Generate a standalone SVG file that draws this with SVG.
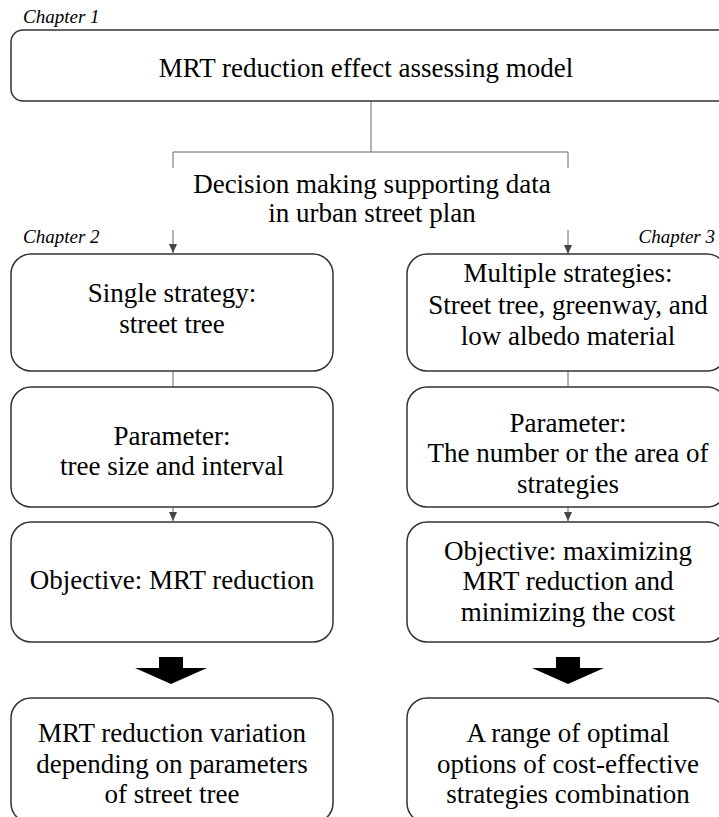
<svg xmlns="http://www.w3.org/2000/svg" width="719" height="817" viewBox="0 0 719 817">
<defs>
<style>
.box{fill:#fff;stroke:#333;stroke-width:1.5}
.t{font-family:'Liberation Serif',serif;font-size:27px;fill:#000;text-anchor:middle}
.ch{font-family:'Liberation Serif',serif;font-size:19px;font-style:italic;fill:#000}
.ln{stroke:#666;stroke-width:1;fill:none}
</style>
<marker id="ah" markerWidth="10" markerHeight="10" refX="9" refY="5" orient="auto" markerUnits="userSpaceOnUse">
<path d="M0,1 L9,5 L0,9 Z" fill="#444"/>
</marker>
</defs>
<rect width="719" height="817" fill="#fff"/>
<text class="ch" x="23" y="23">Chapter 1</text>
<text class="ch" x="23" y="243">Chapter 2</text>
<text class="ch" x="715" y="243" text-anchor="end">Chapter 3</text>
<g id="connectors">
<path class="ln" d="M371,101 V152"/>
<path class="ln" d="M173,152 H568"/>
<path class="ln" d="M173,152 V253" marker-end="url(#ah)"/>
<path class="ln" d="M568,152 V254" marker-end="url(#ah)"/>
<path class="ln" d="M173,371 V387"/>
<path class="ln" d="M568,371 V387"/>
<path class="ln" d="M173,507 V521" marker-end="url(#ah)"/>
<path class="ln" d="M568,507 V521" marker-end="url(#ah)"/>
<path d="M159,657 H183 V668 H207 L171,684 L135,668 H159 Z" fill="#000"/>
<path d="M556,657 H580 V668 H604 L568,684 L532,668 H556 Z" fill="#000"/>
</g>
<g id="n1">
<rect class="box" x="11" y="30" width="730" height="71" rx="12"/>
<text class="t" x="366" y="77">MRT reduction effect assessing model</text>
</g>
<g id="n2">
<rect x="120" y="168" width="505" height="62" fill="#fff"/>
<text class="t" x="372" y="193">Decision making supporting data</text>
<text class="t" x="372" y="222">in urban street plan</text>
</g>
<g id="l1">
<rect class="box" x="11" y="254" width="322" height="117" rx="20"/>
<text class="t" x="172" y="302">Single strategy:</text>
<text class="t" x="172" y="333">street tree</text>
</g>
<g id="l2">
<rect class="box" x="11" y="387" width="322" height="120" rx="20"/>
<text class="t" x="172" y="445">Parameter:</text>
<text class="t" x="172" y="475">tree size and interval</text>
</g>
<g id="l3">
<rect class="box" x="11" y="522" width="322" height="120" rx="20"/>
<text class="t" x="172" y="589">Objective: MRT reduction</text>
</g>
<g id="l4">
<rect class="box" x="11" y="698" width="322" height="125" rx="20"/>
<text class="t" x="172" y="742">MRT reduction variation</text>
<text class="t" x="172" y="773">depending on parameters</text>
<text class="t" x="172" y="803">of street tree</text>
</g>
<g id="r1">
<rect class="box" x="407" y="254" width="320" height="117" rx="20"/>
<text class="t" x="568" y="282">Multiple strategies:</text>
<text class="t" x="568" y="314">Street tree, greenway, and</text>
<text class="t" x="568" y="345">low albedo material</text>
</g>
<g id="r2">
<rect class="box" x="407" y="387" width="320" height="120" rx="20"/>
<text class="t" x="568" y="432">Parameter:</text>
<text class="t" x="568" y="462">The number or the area of</text>
<text class="t" x="568" y="493">strategies</text>
</g>
<g id="r3">
<rect class="box" x="407" y="522" width="320" height="120" rx="20"/>
<text class="t" x="568" y="560">Objective: maximizing</text>
<text class="t" x="568" y="590">MRT reduction and</text>
<text class="t" x="568" y="621">minimizing the cost</text>
</g>
<g id="r4">
<rect class="box" x="407" y="698" width="320" height="125" rx="20"/>
<text class="t" x="568" y="742">A range of optimal</text>
<text class="t" x="568" y="773">options of cost-effective</text>
<text class="t" x="568" y="803">strategies combination</text>
</g>
</svg>
